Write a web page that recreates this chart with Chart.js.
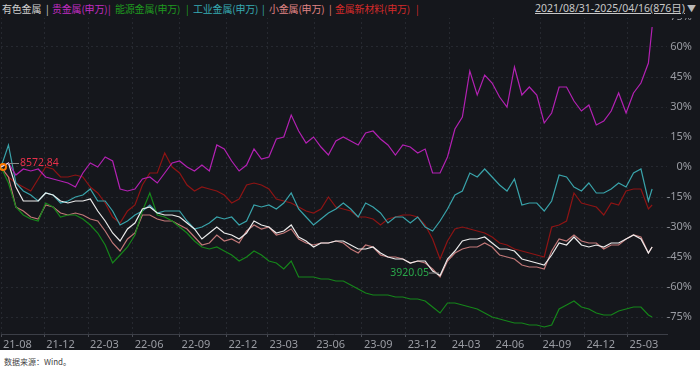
<!DOCTYPE html>
<html>
<head>
<meta charset="utf-8">
<script src="https://cdn.jsdelivr.net/npm/chart.js@4"></script>
<style>
  body { margin: 0; background: #fff; font-family: 'Noto Sans', 'Noto Sans CJK SC', sans-serif; }
  #wrap { position: relative; width: 700px; height: 373px; background: #fff; overflow: hidden; }
  #panel { position: absolute; left: 0; top: 0; width: 700px; height: 350px; background: #15171c; }
  #c { position: absolute; left: 0; top: 0; }
  #head { position: absolute; left: 0; top: 0; width: 700px; height: 18px; background: #15171c; font-size: 10px; letter-spacing: -0.2px; font-family: 'Noto Sans CJK SC', sans-serif; }
  #head span { position: absolute; top: 2px; white-space: nowrap; line-height: 13px; }
  #range { left: 535px; color: #c8c8c8; text-decoration: underline; letter-spacing: 0; font-size: 10.5px; font-family: 'Noto Sans', 'Noto Sans CJK SC', sans-serif; }
  #src { position: absolute; left: 4px; top: 356px; font-size: 8px; color: #444; font-family: 'Noto Sans CJK SC', sans-serif; }
</style>
</head>
<body>
<div id="wrap">
  <div id="panel">
    <canvas id="c" width="692" height="350"></canvas>
    <div id="head"></div>
  </div>
  <div id="src">数据来源：Wind。</div>
</div>
<script>
// 区间涨跌幅(%)，每10个交易日取一个点，最后一点为 2025/04/16
const names = ['有色金属', '贵金属(申万)', '能源金属(申万)', '工业金属(申万)', '小金属(申万)', '金属新材料(申万)'];

const youse = [0, 2, -10, -17, -17, -17, -13, -14, -17, -18,
  -17, -17, -16, -22, -27, -33, -37, -31, -28, -21,
  -20, -23, -24, -24, -25, -28, -31, -36, -33, -30,
  -33, -34, -36, -33, -27, -29, -30, -33, -32, -29,
  -35, -37, -40, -38, -38, -37, -37, -39, -41, -41,
  -40, -43, -45, -46, -46, -48, -47, -47, -52, -54.27,
  -46, -42, -37, -36, -36, -35, -38, -41, -41, -42,
  -46, -47, -48, -49, -44, -38, -39, -35, -39, -40,
  -39, -40, -38, -38, -36, -34, -36, -43, -40];

const guijinshu = [0, 2, -4, -1, -2, -1, -5, -6, -7, -8,
  -10, -3, 2, 0, 5, 3, -11, -12, -11, -6,
  -5, -8, -3, 2, 3, 0, -2, 1, -2, 11,
  9, 3, -2, 1, 9, 4, 5, 14, 15, 26,
  18, 12, 15, 10, 6, 13, 15, 13, 11, 17,
  18, 14, 11, 6, 11, 10, 7, 9, -3, -3,
  5, 19, 25, 48, 36, 46, 42, 35, 30, 50,
  36, 40, 36, 22, 27, 40, 40, 33, 28, 31,
  21, 23, 28, 37, 27, 37, 42, 52, 70];

const nengyuan = [0, -8, -20, -24, -26, -27, -18, -20, -25, -24,
  -24, -26, -29, -33, -39, -48, -44, -40, -34, -22,
  -13, -24, -25, -27, -30, -33, -37, -40, -41, -40,
  -42, -44, -47, -45, -42, -44, -47, -48, -51, -47,
  -55, -55, -55, -56, -56, -57, -57, -59, -61, -63,
  -64, -64, -64, -65, -65, -66, -66, -67, -70, -73,
  -68, -68, -69, -70, -71, -73, -75, -76, -77, -78,
  -78, -79, -79, -80, -79, -71, -69, -67, -70, -71,
  -73, -74, -74, -72, -71, -70, -70, -74, -75];

const gongye = [0, 11, -8, -12, -14, -17, -13, -14, -18, -17,
  -15, -14, -11, -17, -17, -22, -29, -27, -24, -22,
  -19, -23, -22, -22, -22, -27, -31, -30, -28, -25,
  -26, -25, -29, -27, -19, -20, -19, -21, -18, -13,
  -21, -25, -29, -26, -23, -21, -18, -21, -25, -18,
  -20, -23, -28, -25, -25, -28, -25, -30, -32, -27,
  -21, -14, -12, -3, -5, -1, -5, -9, -12, -6,
  -19, -18, -18, -22, -17, -4, -5, -10, -12, -8,
  -13, -13, -11, -8, -10, -3, -1, -17, -11];

const xiaojinshu = [0, -5, -20, -22, -25, -26, -19, -20, -23, -24,
  -23, -24, -26, -27, -32, -38, -42, -36, -33, -24,
  -24, -26, -27, -27, -29, -31, -35, -39, -38, -34,
  -37, -36, -38, -32, -29, -31, -30, -34, -33, -31,
  -36, -38, -39, -38, -38, -37, -38, -41, -43, -39,
  -40, -44, -45, -45, -46, -48, -47, -48, -51, -55,
  -47, -43, -41, -40, -40, -38, -40, -44, -45, -46,
  -49, -50, -50, -51, -42, -36, -37, -34, -37, -38,
  -38, -41, -39, -39, -36, -34, -35, -43, -40];

const xincailiao = [0, -5, -8, -10, -12, -6, 0, -1, -5, -5,
  -4, -5, -10, -13, -18, -25, -28, -22, -19, -9,
  -3, -3, 7, 0, -3, -9, -12, -10, -11, -12,
  -14, -18, -16, -9, -8, -9, -11, -16, -17, -18,
  -20, -22, -23, -21, -15, -20, -21, -22, -25, -25,
  -26, -29, -26, -25, -24, -24, -25, -29, -36, -46,
  -37, -31, -30, -31, -32, -33, -35, -38, -39, -41,
  -42, -43, -44, -45, -30, -29, -27, -13, -18, -19,
  -20, -24, -18, -19, -12, -11, -11, -21, -19];

// 交易日序号（共876个交易日）
const days = youse.map((_, i) => (i < youse.length - 1 ? i * 10 : 875));

const tickDays = [0, 58, 117, 177, 240, 303, 358, 421, 485, 544, 603, 662, 725, 784, 842];
const tickLabels = ['21-08', '21-12', '22-03', '22-06', '22-09', '22-12', '23-03', '23-06', '23-09', '23-12', '24-03', '24-06', '24-09', '24-12', '25-03'];
const yTicks = [-75, -60, -45, -30, -15, 0, 15, 30, 45, 60, 75];

const startValue = '8572.84';
const minValue = '3920.05';

const lineColors = ['#ececec', '#b321b3', '#15861a', '#39a3aa', '#c27878', '#8e1414'];
const legendColors = ['#d0d0d0', '#c02cc0', '#1f9a1f', '#35aab2', '#e08585', '#d42a2a'];

// 顶部标题栏
const head = document.getElementById('head');
const itemX = [2, 52, 115, 193, 269, 335];
const barX = [46, 108, 186, 262, 329, 416];
names.forEach((n, i) => {
  head.insertAdjacentHTML('beforeend',
    `<span style="left:${itemX[i]}px;color:${legendColors[i]}">${n}</span>` +
    `<span style="left:${barX[i]}px;color:${legendColors[i]}">|</span>`);
});
head.insertAdjacentHTML('beforeend', '<span id="range">2021/08/31-2025/04/16(876日)</span>' +
  '<span style="left:687px;color:#bbb;font-size:9px">▼</span>');

Chart.defaults.font.family = "'Noto Sans', 'Noto Sans CJK SC', sans-serif";

const series = [youse, guijinshu, nengyuan, gongye, xiaojinshu, xincailiao];

const marks = {
  id: 'marks',
  afterDatasetsDraw(chart) {
    const { ctx, scales: { x, y } } = chart;
    ctx.save();
    ctx.font = "10.5px 'Noto Sans'";
    ctx.textBaseline = 'middle';
    // 起点
    const sx = x.getPixelForValue(days[0]) + 2;
    const sy = y.getPixelForValue(youse[0]);
    ctx.strokeStyle = '#888';
    ctx.lineWidth = 1;
    ctx.beginPath();
    ctx.moveTo(sx + 5, sy - 3.5);
    ctx.lineTo(sx + 16, sy - 3.5);
    ctx.stroke();
    ctx.strokeStyle = '#ff7a00';
    ctx.lineWidth = 2;
    ctx.beginPath();
    ctx.arc(sx, sy, 3, 0, Math.PI * 2);
    ctx.stroke();
    ctx.fillStyle = '#e8304a';
    ctx.textAlign = 'left';
    ctx.fillText(startValue, sx + 17, sy - 4);
    // 最低点
    let mi = 0;
    youse.forEach((v, i) => { if (v < youse[mi]) mi = i; });
    const mx = x.getPixelForValue(days[mi]);
    const my = y.getPixelForValue(youse[mi]);
    ctx.strokeStyle = '#888';
    ctx.lineWidth = 1;
    ctx.beginPath();
    ctx.moveTo(mx - 11, my - 2.5);
    ctx.lineTo(mx - 1, my - 2.5);
    ctx.stroke();
    ctx.fillStyle = '#2aa84a';
    ctx.textAlign = 'right';
    ctx.fillText(minValue, mx - 11, my - 3);
    ctx.restore();
  }
};

new Chart(document.getElementById('c'), {
  type: 'line',
  data: {
    datasets: series.map((s, i) => ({
      label: names[i],
      data: s.map((v, j) => ({ x: days[j], y: v })),
      borderColor: lineColors[i],
      borderWidth: 1.2,
      pointRadius: 0,
      tension: 0
    }))
  },
  options: {
    responsive: false,
    devicePixelRatio: 1,
    animation: false,
    layout: { padding: { top: 17, left: 0, right: 0, bottom: 0 } },
    plugins: { legend: { display: false }, tooltip: { enabled: false } },
    scales: {
      x: {
        type: 'linear',
        min: 0,
        max: 895,
        afterBuildTicks: s => { s.ticks = tickDays.map(v => ({ value: v })); },
        afterFit: s => { s.height = 16; },
        ticks: {
          autoSkip: false,
          maxRotation: 0,
          align: 'start',
          labelOffset: 2,
          padding: 1,
          color: '#9a9ca3',
          font: { size: 11 },
          callback: v => tickLabels[tickDays.indexOf(v)]
        },
        grid: { color: '#262930', tickLength: 3, tickColor: '#4a4d55' },
        border: { color: '#3c3f47', dash: [2, 3] }
      },
      y: {
        position: 'right',
        min: -83.5,
        max: 75,
        afterBuildTicks: s => { s.ticks = yTicks.map(v => ({ value: v })); },
        afterFit: s => { s.width = 25; },
        ticks: {
          color: '#9a9ca3',
          font: { size: 11 },
          crossAlign: 'far',
          padding: 0,
          callback: v => v + '%'
        },
        grid: { color: '#262930', drawTicks: false },
        border: { display: false, dash: [2, 3] }
      }
    }
  },
  plugins: [marks]
});
</script>
</body>
</html>
